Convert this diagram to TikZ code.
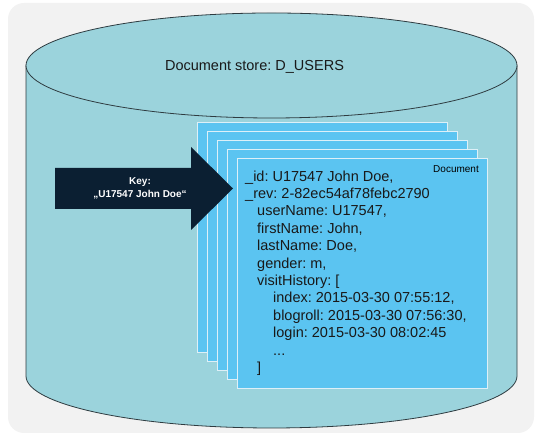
\documentclass[tikz,border=0pt]{standalone}
\usepackage{fontspec}
\setmainfont{Liberation Sans}
\frenchspacing
\definecolor{panelgray}{HTML}{F2F2F2}
\definecolor{storeteal}{HTML}{9BD3DC}
\definecolor{pageblue}{HTML}{5BC4F1}
\definecolor{pageedge}{HTML}{DDF0F8}
\definecolor{keynavy}{HTML}{0B1F32}
\definecolor{storeline}{HTML}{2E3B40}

\begin{document}
\begin{tikzpicture}[x=1pt,y=1pt,
        docpage/.style={draw=pageedge,fill=pageblue,line width=1pt,
            inner sep=0pt,outer sep=0pt,minimum width=250,minimum height=230},
        bodytext/.style={font=\fontsize{14.5}{17.4}\selectfont,text=black!90,inner sep=0pt}]
    \def\cx{271.5}
    \def\rx{245.5}

    \useasboundingbox (0,0) rectangle (546,443);
    \fill[panelgray,rounded corners=16] (8,10) rectangle (534,440);

    % store cylinder
    \fill[storeteal] (26,377.5) -- (26,67)
        arc[start angle=180,end angle=360,x radius=\rx,y radius=52]
        -- (517,377.5) -- cycle;
    \draw[storeline,line width=0.8pt] (26,377.5) -- (26,67)
        arc[start angle=180,end angle=360,x radius=\rx,y radius=52]
        -- (517,377.5);
    \filldraw[fill=storeteal,draw=storeline,line width=0.8pt]
        (\cx,377.5) ellipse[x radius=\rx,y radius=52.5];
    \node[bodytext,anchor=base] (store) at (254.5,372.5)
        {Document store: D\_USERS};

    % stacked documents
    \node[docpage] (page1) at (322,205) {};
    \node[docpage] (page2) at (332,196) {};
    \node[docpage] (page3) at (342,187) {};
    \node[docpage] (page4) at (352,178) {};
    \node[docpage] (page5) at (362,169) {};
    \node[font=\fontsize{10}{12}\selectfont,anchor=base east,inner sep=0pt]
        (doclabel) at (479,270.5) {Document};
    \node[bodytext,align=left,anchor=north west] (record) at (245,272.6)
        {\_id: U17547 John Doe,\\
         \_rev: 2-82ec54af78febc2790\\
         \hspace*{12pt}userName: U17547,\\
         \hspace*{12pt}firstName: John,\\
         \hspace*{12pt}lastName: Doe,\\
         \hspace*{12pt}gender: m,\\
         \hspace*{12pt}visitHistory: [\\
         \hspace*{28pt}index: 2015-03-30 07:55:12,\\
         \hspace*{28pt}blogroll: 2015-03-30 07:56:30,\\
         \hspace*{28pt}login: 2015-03-30 08:02:45\\
         \hspace*{28pt}...\\
         \hspace*{12pt}]};

    % key arrow
    \fill[keynavy] (55,275) -- (191,275) -- (191,296) -- (233,254.5)
        -- (191,213) -- (191,234) -- (55,234) -- cycle;
    \node[font=\fontsize{10}{12.5}\selectfont\bfseries,text=white,
        align=center,inner sep=0pt] (key) at (140,254.8)
        {Key:\\„U17547 John Doe“};
\end{tikzpicture}
\end{document}
